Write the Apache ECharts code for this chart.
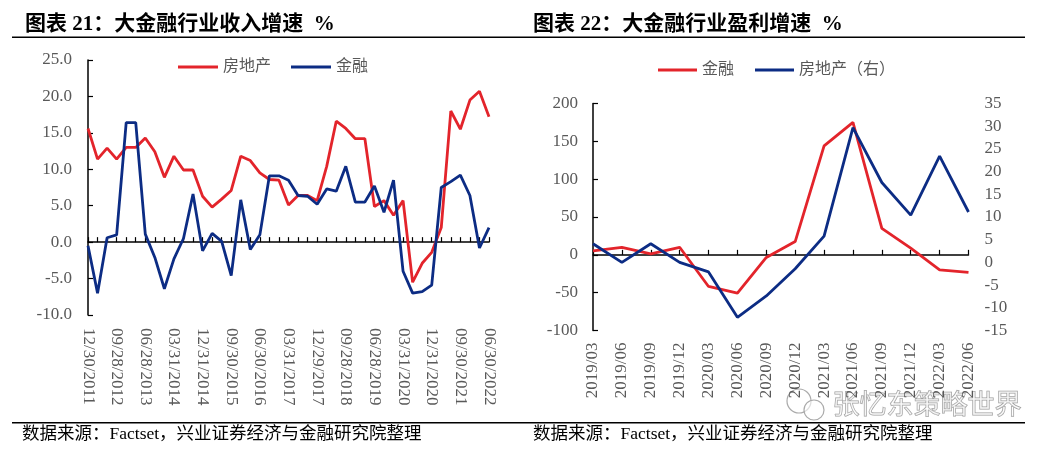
<!DOCTYPE html>
<html><head><meta charset="utf-8">
<script src="https://cdn.jsdelivr.net/npm/echarts@6/dist/echarts.min.js"></script>
<style>html,body{margin:0;padding:0;background:#fff}#c{width:1051px;height:456px}</style>
</head><body><div id="c"></div>
<script>
// ---- Left chart: 大金融行业收入增速 (%) ----
const datesLeft = ['12/30/2011','03/30/2012','06/29/2012','09/28/2012','12/31/2012','03/29/2013','06/28/2013','09/30/2013','12/31/2013','03/31/2014','06/30/2014','09/30/2014','12/31/2014','03/31/2015','06/30/2015','09/30/2015','12/31/2015','03/31/2016','06/30/2016','09/30/2016','12/30/2016','03/31/2017','06/30/2017','09/29/2017','12/29/2017','03/30/2018','06/29/2018','09/28/2018','12/31/2018','03/29/2019','06/28/2019','09/30/2019','12/31/2019','03/31/2020','06/30/2020','09/30/2020','12/31/2020','03/31/2021','06/30/2021','09/30/2021','12/31/2021','03/31/2022','06/30/2022'];
const revRealEstate = [15.6,11.4,12.9,11.4,13.0,13.0,14.3,12.4,8.9,11.8,9.9,9.9,6.3,4.8,5.9,7.1,11.8,11.2,9.5,8.6,8.5,5.1,6.4,6.4,5.7,10.4,16.6,15.6,14.2,14.2,4.9,5.7,3.7,5.7,-5.5,-2.9,-1.4,2.0,18.0,15.5,19.5,20.7,17.2];
const revFinance = [-0.5,-7.0,0.6,1.0,16.4,16.4,1.1,-2.1,-6.4,-2.3,0.5,6.6,-1.2,1.2,0.1,-4.6,5.8,-1.0,1.0,9.1,9.1,8.5,6.4,6.3,5.2,7.3,7.0,10.4,5.5,5.5,7.7,4.1,8.5,-4.0,-7.0,-6.8,-5.9,7.5,8.3,9.2,6.4,-0.8,2.0];
const leftYTicks = {min:-10, max:25, step:5};

// ---- Right chart: 大金融行业盈利增速 (%) ----
const quartersRight = ['2019/03','2019/06','2019/09','2019/12','2020/03','2020/06','2020/09','2020/12','2021/03','2021/06','2021/09','2021/12','2022/03','2022/06'];
const profitFinance = [5.3,10,1.3,10,-41.8,-50.5,-3.5,17.5,144,175,35,8.8,-19.8,-23.3];
const profitRealEstate = [4.1,0,4.1,0,-2.1,-12.1,-7.4,-1.4,5.8,29.7,17.6,10.4,23.4,11.1];
const rightYLeftTicks = {min:-100, max:200, step:50};
const rightYRightTicks = {min:-15, max:35, step:5};

const RED = '#E3242B', BLUE = '#0C2C84', GREY = '#595959';
const SERIF = "'Liberation Serif','Noto Sans CJK SC',serif";
const lbl = {fontFamily: SERIF, fontSize: 17, color: GREY};
const axisBlack = {color:'#000', width:1.5};

const chart = echarts.init(document.getElementById('c'));
chart.setOption({
  backgroundColor:'#fff',
  animation:false,
  grid:[
    {left:88, top:60, width:401, height:255},
    {left:593, top:103.5, width:375.5, height:227}
  ],
  legend:[
    {left:173, top:54, itemWidth:40, itemHeight:3, itemGap:20, icon:'rect',
     textStyle:{fontFamily:SERIF, fontSize:16, color:GREY},
     data:[{name:'房地产', itemStyle:{color:RED}}, {name:'金融', itemStyle:{color:BLUE}}]},
    {left:653, top:57, itemWidth:39, itemHeight:3, itemGap:21, icon:'rect',
     textStyle:{fontFamily:SERIF, fontSize:16, color:GREY},
     data:[{name:'金融', itemStyle:{color:RED}}, {name:'房地产（右）', itemStyle:{color:BLUE}}]}
  ],
  xAxis:[
    {type:'category', gridIndex:0, data:datesLeft, boundaryGap:false,
     axisLine:{onZero:true, lineStyle:axisBlack},
     axisTick:{show:true, interval:0, inside:true, length:5, lineStyle:{color:'#000', width:1.2}},
     axisLabel:{show:false}, splitLine:{show:false}},
    {type:'category', gridIndex:1, data:quartersRight, boundaryGap:false,
     axisLine:{onZero:true, onZeroAxisIndex:1, lineStyle:axisBlack},
     axisTick:{show:true, interval:0, inside:true, length:5, lineStyle:{color:'#000', width:1.2}},
     axisLabel:{show:false}, splitLine:{show:false}},
    {type:'category', gridIndex:0, data:datesLeft, boundaryGap:false, position:'bottom',
     axisLine:{show:false, onZero:false}, axisTick:{show:false},
     axisLabel:Object.assign({interval:2, rotate:-90, margin:13}, lbl)},
    {type:'category', gridIndex:1, data:quartersRight, boundaryGap:false, position:'bottom',
     axisLine:{show:false, onZero:false}, axisTick:{show:false},
     axisLabel:Object.assign({interval:0, rotate:90, margin:12}, lbl)}
  ],
  yAxis:[
    {type:'value', gridIndex:0, min:leftYTicks.min, max:leftYTicks.max, interval:leftYTicks.step,
     axisLine:{show:true, lineStyle:axisBlack},
     axisTick:{show:true, inside:true, length:5, lineStyle:{color:'#000', width:1.2}},
     splitLine:{show:false},
     axisLabel:Object.assign({margin:16, formatter:v=>v.toFixed(1)}, lbl)},
    {type:'value', gridIndex:1, position:'left', min:rightYLeftTicks.min, max:rightYLeftTicks.max, interval:rightYLeftTicks.step,
     axisLine:{show:true, lineStyle:axisBlack},
     axisTick:{show:true, inside:true, length:5, lineStyle:{color:'#000', width:1.2}},
     splitLine:{show:false},
     axisLabel:Object.assign({margin:15}, lbl)},
    {type:'value', gridIndex:1, position:'right', min:rightYRightTicks.min, max:rightYRightTicks.max, interval:rightYRightTicks.step,
     axisLine:{show:false}, axisTick:{show:false}, splitLine:{show:false},
     axisLabel:Object.assign({margin:16}, lbl)}
  ],
  series:[
    {name:'房地产', type:'line', xAxisIndex:0, yAxisIndex:0, data:revRealEstate, symbol:'none',
     lineStyle:{color:RED, width:2.8}, itemStyle:{color:RED}},
    {name:'金融', type:'line', xAxisIndex:0, yAxisIndex:0, data:revFinance, symbol:'none',
     lineStyle:{color:BLUE, width:2.8}, itemStyle:{color:BLUE}},
    {name:'金融', type:'line', xAxisIndex:1, yAxisIndex:1, data:profitFinance, symbol:'none',
     lineStyle:{color:RED, width:2.8}, itemStyle:{color:RED}},
    {name:'房地产（右）', type:'line', xAxisIndex:1, yAxisIndex:2, data:profitRealEstate, symbol:'none',
     lineStyle:{color:BLUE, width:2.8}, itemStyle:{color:BLUE}}
  ],
  graphic:[
    {type:'text', left:25, top:14, style:{text:'图表 21：大金融行业收入增速  %', font:"bold 21px 'Liberation Serif','Noto Sans CJK SC',serif", fill:'#000'}},
    {type:'text', left:533, top:14, style:{text:'图表 22：大金融行业盈利增速  %', font:"bold 21px 'Liberation Serif','Noto Sans CJK SC',serif", fill:'#000'}},
    {type:'line', shape:{x1:12, y1:37.3, x2:1025, y2:37.3}, style:{stroke:'#000', lineWidth:1.5}},
    {type:'line', shape:{x1:12, y1:422.7, x2:1025, y2:422.7}, style:{stroke:'#000', lineWidth:1.5}},
    {type:'text', left:22, top:426, style:{text:'数据来源：Factset，兴业证券经济与金融研究院整理', font:"17.5px 'Liberation Serif','Noto Sans CJK SC',serif", fill:'#000'}},
    {type:'text', left:533, top:426, style:{text:'数据来源：Factset，兴业证券经济与金融研究院整理', font:"17.5px 'Liberation Serif','Noto Sans CJK SC',serif", fill:'#000'}},
    {type:'circle', shape:{cx:799, cy:401, r:12}, style:{fill:'rgba(255,255,255,0.5)', stroke:'#aaa', lineWidth:1.2}},
    {type:'circle', shape:{cx:814, cy:410, r:10}, style:{fill:'rgba(255,255,255,0.6)', stroke:'#aaa', lineWidth:1.2}},
    {type:'text', left:832, top:390, style:{text:'张忆东策略世界', font:"27px 'Noto Sans CJK SC',sans-serif", fill:'rgba(255,255,255,0.5)', stroke:'#9a9a9a', lineWidth:1}}
  ]
});
</script></body></html>
